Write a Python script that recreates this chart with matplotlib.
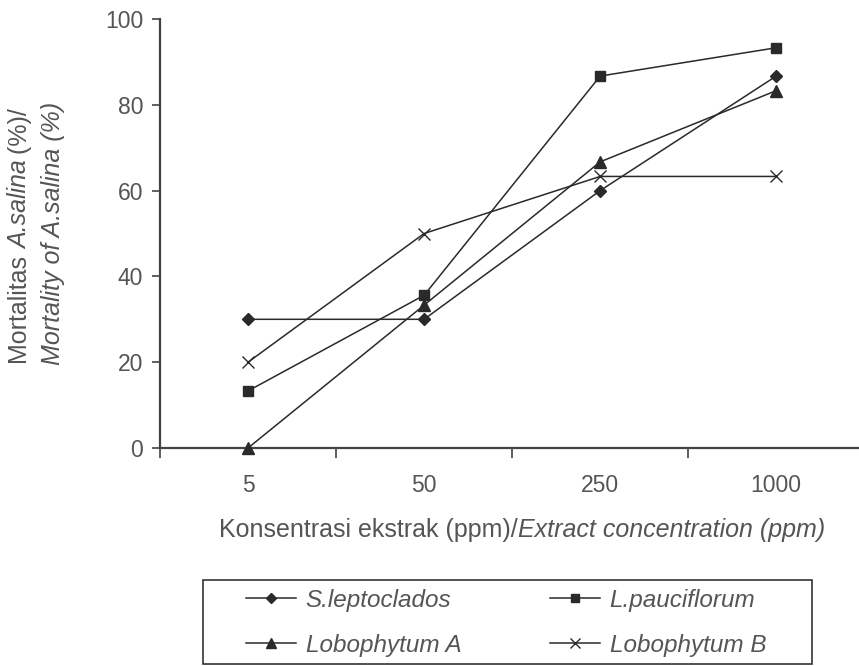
import matplotlib
matplotlib.use("Agg")
import matplotlib.pyplot as plt
from matplotlib.lines import Line2D
from matplotlib.patches import Rectangle

plt.rcParams['font.family'] = ['Liberation Sans', 'DejaVu Sans']

categories = ["5", "50", "250", "1000"]
s_leptoclados = [30.0, 30.0, 60.0, 86.7]
l_pauciflorum = [13.3, 35.6, 86.7, 93.3]
lobophytum_a = [0.0, 33.3, 66.7, 83.3]
lobophytum_b = [20.0, 50.0, 63.3, 63.3]
series_names = ["S.leptoclados", "L.pauciflorum", "Lobophytum A", "Lobophytum B"]
y_ticks = [0, 20, 40, 60, 80, 100]

text_col = "#555555"
line_col = "#2a2a2a"
axis_col = "#444444"

W, H = 859, 666
fig = plt.figure(figsize=(W/100, H/100), dpi=100)
ax = fig.add_axes([160/W, 1-448/H, 1-160/W, (448-19)/H])

xs = list(range(len(categories)))
styles = [('D', 6.5), ('s', 7.5), ('^', 8), ('x', 9)]
series = [s_leptoclados, l_pauciflorum, lobophytum_a, lobophytum_b]
handles = []
for vals, (m, ms) in zip(series, styles):
    ax.plot(xs, vals, color=line_col, lw=1.1, marker=m, ms=ms,
            markerfacecolor=line_col, markeredgecolor=line_col,
            markeredgewidth=1.0, clip_on=False, zorder=3)
    handles.append(Line2D([0], [0], color=line_col, lw=1.1, marker=m,
                          ms=ms*0.85, markerfacecolor=line_col,
                          markeredgecolor=line_col, markeredgewidth=1.0))

ax.set_xlim(-0.5, 3.47)
ax.set_ylim(0, 100)

for s in ['top', 'right']:
    ax.spines[s].set_visible(False)
for s in ['left', 'bottom']:
    ax.spines[s].set_color(axis_col)
    ax.spines[s].set_linewidth(1.6)

ax.set_yticks(y_ticks)
ax.set_yticklabels([str(v) for v in y_ticks])
ax.tick_params(axis='y', direction='out', length=6, width=1.2, color=axis_col,
               labelsize=16.5, labelcolor=text_col, pad=6)

ax.set_xticks(xs)
ax.set_xticklabels(categories)
ax.set_xticks([-0.5, 0.5, 1.5, 2.5], minor=True)
ax.tick_params(axis='x', which='major', length=0, labelsize=16.5,
               labelcolor=text_col, pad=19)
ax.tick_params(axis='x', which='minor', direction='out', length=7, width=1.2,
               color=axis_col)

fig.canvas.draw()
renderer = fig.canvas.get_renderer()


def advance(piece, size, style):
    t1 = fig.text(0, 0, "|" + piece + "|", fontsize=size, style=style)
    t2 = fig.text(0, 0, "||", fontsize=size, style=style)
    w = t1.get_window_extent(renderer).width - t2.get_window_extent(renderer).width
    t1.remove()
    t2.remove()
    return w


def place_pieces(pieces, cx, cy, size, vertical=False):
    widths = [advance(p, size, st) for p, st in pieces]
    total = sum(widths)
    pos = -total / 2
    for (p, st), w in zip(pieces, widths):
        if vertical:
            x = cx
            y = (H - cy) + pos
            fig.text(x / W, y / H, p, fontsize=size, style=st, color=text_col,
                     rotation=90, rotation_mode='anchor', ha='left',
                     va='baseline')
        else:
            x = cx + pos
            y = H - cy
            fig.text(x / W, y / H, p, fontsize=size, style=st, color=text_col,
                     ha='left', va='baseline')
        pos += w


place_pieces([("Konsentrasi ekstrak (ppm)/", 'normal'),
              ("Extract concentration (ppm)", 'italic')], 522, 537, 18)
place_pieces([("Mortalitas ", 'normal'), ("A.salina", 'italic'),
              (" (%)/", 'normal')], 27, 236, 18, vertical=True)
place_pieces([("Mortality of A.salina (%)", 'italic')], 60, 233, 18,
             vertical=True)

col1 = [handles[0], handles[2]]
col2 = [handles[1], handles[3]]
names1 = [series_names[0], series_names[2]]
names2 = [series_names[1], series_names[3]]
leg_kw = dict(loc='upper left', frameon=False, handlelength=2.05,
              handletextpad=0.4, borderaxespad=0, borderpad=0,
              labelspacing=0.9, prop={'style': 'italic', 'size': 17.5})
leg1 = fig.legend(col1, names1, bbox_to_anchor=(246/W, 1-589/H), **leg_kw)
leg2 = fig.legend(col2, names2, bbox_to_anchor=(550/W, 1-589/H), **leg_kw)
for lg in (leg1, leg2):
    for t in lg.get_texts():
        t.set_color(text_col)

fig.add_artist(Rectangle((203/W, 1-664/H), (812-203)/W, (664-580)/H,
                         transform=fig.transFigure, fill=False,
                         edgecolor='#333333', lw=1.2))

fig.savefig("out.png", dpi=100)
